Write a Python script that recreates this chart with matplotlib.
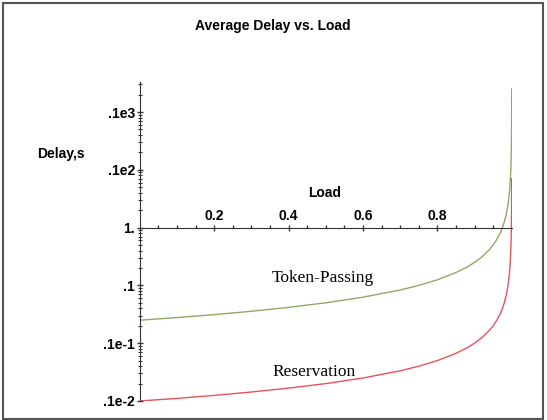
import matplotlib.pyplot as plt
from matplotlib.patches import Rectangle
from matplotlib.ticker import FixedLocator, LogLocator, NullFormatter

# Values (load vs average delay, seconds)
load_tp = [0.0, 0.1, 0.2, 0.3, 0.4, 0.5, 0.6, 0.7, 0.75, 0.8, 0.85, 0.88, 0.9, 0.92,
           0.94, 0.95, 0.96, 0.97, 0.975, 0.98, 0.985, 0.99, 0.993, 0.995, 0.997,
           0.998, 0.999, 0.9995, 0.9997, 0.9998, 0.9999]
delay_tp = [0.025, 0.0278, 0.0312, 0.0357, 0.0417, 0.05, 0.0625, 0.0833, 0.1, 0.125,
            0.167, 0.208, 0.25, 0.312, 0.417, 0.5, 0.625, 0.833, 1.0, 1.25, 1.67, 2.5,
            3.57, 5.0, 8.33, 12.5, 25.0, 50.0, 83.0, 125.0, 250.0]

load_res = [0.0, 0.1, 0.2, 0.3, 0.4, 0.5, 0.6, 0.7, 0.75, 0.8, 0.85, 0.88, 0.9, 0.92,
            0.94, 0.95, 0.96, 0.97, 0.975, 0.98, 0.985, 0.99, 0.993, 0.995, 0.997,
            0.998, 0.999, 0.9995, 0.9997, 0.9998, 0.99986]
delay_res = [0.001, 0.00111, 0.00125, 0.00143, 0.00167, 0.002, 0.0025, 0.00333, 0.004,
             0.005, 0.00667, 0.00833, 0.01, 0.0125, 0.0167, 0.02, 0.025, 0.0333, 0.04,
             0.05, 0.0667, 0.1, 0.143, 0.2, 0.333, 0.5, 1.0, 2.0, 3.3, 5.0, 7.0]

x_ticks = [0.2, 0.4, 0.6, 0.8]
y_ticks = [0.001, 0.01, 0.1, 1, 10, 100]
y_labels = ['.1e-2', '.1e-1', '.1', '1.', '.1e2', '.1e3']

W, H = 547, 420
fig = plt.figure(figsize=(W / 100, H / 100), dpi=100)
bold = dict(family=['Liberation Sans Narrow', 'Liberation Sans', 'DejaVu Sans'],
            fontweight='bold')

# axes placed in pixel terms of the reference
left, right, top, bottom = 139.7, 511.7, 82, 401
ax = fig.add_axes([left / W, 1 - bottom / H, (right - left) / W, (bottom - top) / H])
ax.set_yscale('log')
ax.set_xlim(0, 0.9999)
ax.set_ylim(0.001, 331)

ax.plot(load_tp, delay_tp, color='#93a865', lw=1.0)
ax.plot(load_res, delay_res, color='#e8535b', lw=1.0)

# axis lines: y on the left, x crossing at delay = 1
for s in ['right', 'bottom']:
    ax.spines[s].set_visible(False)
ax.spines['top'].set_position(('data', 1))
ax.spines['left'].set_color('#333333')
ax.spines['top'].set_color('#333333')
ax.xaxis.tick_top()
ax.xaxis.set_major_locator(FixedLocator(x_ticks))
ax.xaxis.set_minor_locator(FixedLocator([i * 0.05 for i in range(1, 20) if i % 4]))
ax.set_xticklabels(['0.2', '0.4', '0.6', '0.8'], fontsize=10, **bold)
ax.tick_params(axis='x', which='major', direction='inout', length=5, width=1, pad=1,
               color='#333333')
ax.tick_params(axis='x', which='minor', direction='out', length=2, width=1,
               color='#333333')

ax.yaxis.set_major_locator(FixedLocator(y_ticks))
ax.set_yticklabels(y_labels, fontsize=10, **bold)
ax.yaxis.set_minor_locator(LogLocator(base=10, subs=range(2, 10), numticks=20))
ax.yaxis.set_minor_formatter(NullFormatter())
ax.tick_params(axis='y', which='major', direction='inout', length=5, width=1, pad=1,
               color='#333333')
ax.tick_params(axis='y', which='minor', direction='inout', length=3, width=0.8,
               color='#333333')

fig.text(273 / W, 1 - 26 / H, 'Average Delay vs. Load', ha='center', va='center',
         fontsize=10, **bold)
fig.text(37 / W, 1 - 154 / H, 'Delay,s', ha='left', va='center', fontsize=10, **bold)
fig.text(325 / W, 1 - 193 / H, 'Load', ha='center', va='center', fontsize=10, **bold)

serif = ['Liberation Serif', 'DejaVu Serif']
fig.text(272 / W, 1 - 278 / H, 'Token-Passing', ha='left', va='center',
         fontsize=12.5, family=serif)
fig.text(272 / W, 1 - 372 / H, 'Reservation', ha='left', va='center',
         fontsize=12.5, family=serif)

# frame around the whole picture
fig.patches.append(Rectangle((3 / W, 1 / H), 540 / W, 416 / H, transform=fig.transFigure,
                             fill=False, edgecolor='#555555', lw=1.5))

fig.savefig('out.png', dpi=100)
